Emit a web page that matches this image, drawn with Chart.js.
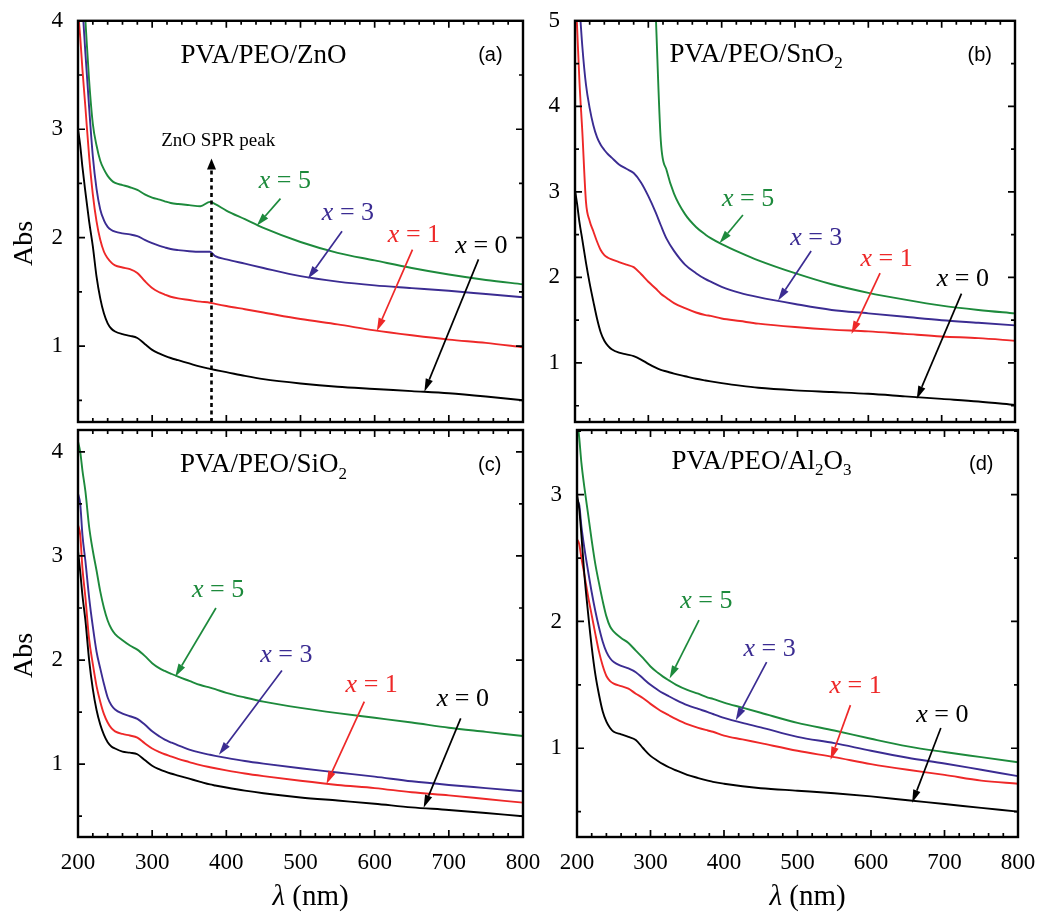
<!DOCTYPE html>
<html>
<head>
<meta charset="utf-8">
<title>Abs spectra PVA/PEO nanocomposites</title>
<script src="https://cdn.jsdelivr.net/npm/chart.js@4.4.1/dist/chart.umd.min.js"></script>
<style>
  html, body { margin: 0; padding: 0; background: #fff; }
  #wrap { position: relative; width: 1045px; height: 913px; }
  #wrap canvas { position: absolute; left: 0; top: 0; }
</style>
</head>
<body>
<div id="wrap">
  <canvas id="pa" width="1045" height="913"></canvas>
  <canvas id="pb" width="1045" height="913"></canvas>
  <canvas id="pc" width="1045" height="913"></canvas>
  <canvas id="pd" width="1045" height="913"></canvas>
</div>
<script>
// wavelength grid, nm
var wl = [200, 203, 206, 210, 215, 220, 225, 230, 235, 240, 245, 250, 260, 270, 280, 290, 300, 310, 317, 325,
          335, 350, 365, 378, 385, 400, 425, 450, 500, 550, 600, 650, 700, 750, 800];
var xTicks = [200, 300, 400, 500, 600, 700, 800];
var seriesNames = ['0', '1', '3', '5'];

// (a) PVA/PEO/ZnO
var zno0 = [3.00, 2.85, 2.65, 2.42, 2.15, 1.92, 1.64, 1.44, 1.30, 1.21, 1.16, 1.135, 1.11, 1.095, 1.075, 1.02, 0.965, 0.93, 0.91, 0.89,
            0.87, 0.84, 0.81, 0.79, 0.78, 0.76, 0.725, 0.695, 0.655, 0.625, 0.605, 0.585, 0.565, 0.535, 0.50];
var zno1 = [4.10, 3.85, 3.55, 3.20, 2.75, 2.40, 2.15, 1.98, 1.87, 1.81, 1.77, 1.745, 1.725, 1.71, 1.675, 1.60, 1.535, 1.495, 1.475, 1.455,
            1.44, 1.425, 1.41, 1.40, 1.39, 1.37, 1.34, 1.31, 1.25, 1.20, 1.145, 1.10, 1.06, 1.03, 0.99];
var zno3 = [5.00, 4.60, 4.15, 3.70, 3.20, 2.75, 2.45, 2.26, 2.16, 2.10, 2.07, 2.055, 2.04, 2.03, 2.015, 1.98, 1.95, 1.925, 1.91, 1.895,
            1.885, 1.875, 1.87, 1.87, 1.83, 1.80, 1.76, 1.72, 1.645, 1.595, 1.56, 1.535, 1.51, 1.48, 1.45];
var zno5 = [5.20, 4.80, 4.40, 4.00, 3.45, 3.05, 2.85, 2.71, 2.63, 2.57, 2.53, 2.505, 2.485, 2.465, 2.44, 2.40, 2.37, 2.35, 2.335, 2.32,
            2.31, 2.30, 2.29, 2.33, 2.31, 2.25, 2.17, 2.09, 1.96, 1.86, 1.79, 1.72, 1.66, 1.61, 1.57];

// (b) PVA/PEO/SnO2
var sno0 = [3.02, 2.85, 2.65, 2.44, 2.17, 1.93, 1.72, 1.52, 1.36, 1.26, 1.20, 1.16, 1.12, 1.10, 1.08, 1.04, 0.99, 0.945, 0.92, 0.90,
            0.875, 0.845, 0.815, 0.795, 0.785, 0.765, 0.735, 0.71, 0.68, 0.66, 0.64, 0.61, 0.58, 0.55, 0.51];
var sno1 = [5.50, 4.90, 4.30, 3.70, 2.88, 2.66, 2.54, 2.42, 2.32, 2.26, 2.23, 2.21, 2.18, 2.15, 2.12, 2.04, 1.95, 1.87, 1.81, 1.76,
            1.70, 1.64, 1.59, 1.56, 1.55, 1.52, 1.49, 1.46, 1.42, 1.39, 1.37, 1.34, 1.31, 1.29, 1.26];
var sno3 = [6.00, 5.60, 5.20, 4.70, 4.25, 3.98, 3.78, 3.64, 3.55, 3.49, 3.44, 3.40, 3.32, 3.27, 3.22, 3.11, 2.95, 2.76, 2.61, 2.45,
            2.31, 2.15, 2.05, 1.98, 1.95, 1.89, 1.82, 1.77, 1.69, 1.62, 1.58, 1.54, 1.50, 1.47, 1.44];
var sno5 = [null, null, null, null, null, null, null, null, null, null, null, null, null, null, null, null, null, 5.10, 3.60, 3.25,
            2.98, 2.74, 2.59, 2.50, 2.46, 2.39, 2.29, 2.20, 2.05, 1.92, 1.82, 1.74, 1.67, 1.62, 1.58];

// (c) PVA/PEO/SiO2
var sio0 = [3.05, 2.85, 2.62, 2.38, 2.00, 1.72, 1.52, 1.38, 1.28, 1.21, 1.17, 1.15, 1.12, 1.11, 1.095, 1.04, 0.985, 0.95, 0.93, 0.91,
            0.89, 0.86, 0.83, 0.805, 0.795, 0.775, 0.745, 0.72, 0.68, 0.65, 0.62, 0.585, 0.56, 0.53, 0.50];
var sio1 = [3.30, 3.20, 2.88, 2.60, 2.20, 1.96, 1.75, 1.60, 1.48, 1.40, 1.345, 1.315, 1.29, 1.275, 1.255, 1.20, 1.15, 1.115, 1.095, 1.075,
            1.05, 1.02, 0.99, 0.97, 0.96, 0.94, 0.91, 0.885, 0.84, 0.80, 0.77, 0.73, 0.70, 0.665, 0.63];
var sio3 = [3.60, 3.50, 3.20, 2.95, 2.60, 2.32, 2.08, 1.92, 1.77, 1.64, 1.565, 1.525, 1.485, 1.46, 1.435, 1.38, 1.315, 1.265, 1.235, 1.21,
            1.18, 1.14, 1.11, 1.09, 1.08, 1.06, 1.03, 1.005, 0.96, 0.92, 0.88, 0.835, 0.80, 0.77, 0.74];
var sio5 = [4.10, 4.00, 3.82, 3.62, 3.28, 3.05, 2.86, 2.66, 2.50, 2.38, 2.30, 2.25, 2.19, 2.14, 2.10, 2.04, 1.97, 1.92, 1.895, 1.87,
            1.84, 1.80, 1.76, 1.735, 1.72, 1.685, 1.64, 1.60, 1.54, 1.49, 1.445, 1.40, 1.35, 1.31, 1.27];

// (d) PVA/PEO/Al2O3
var alo0 = [3.00, 2.89, 2.68, 2.37, 2.07, 1.80, 1.58, 1.42, 1.29, 1.21, 1.16, 1.13, 1.11, 1.09, 1.065, 1.00, 0.94, 0.90, 0.875, 0.85,
            0.825, 0.79, 0.765, 0.745, 0.735, 0.72, 0.70, 0.685, 0.665, 0.645, 0.62, 0.59, 0.56, 0.53, 0.50];
var alo1 = [2.65, 2.61, 2.50, 2.37, 2.20, 2.05, 1.90, 1.76, 1.65, 1.57, 1.53, 1.51, 1.49, 1.47, 1.43, 1.395, 1.35, 1.31, 1.285, 1.26,
            1.23, 1.19, 1.16, 1.14, 1.13, 1.10, 1.07, 1.04, 0.98, 0.93, 0.875, 0.83, 0.79, 0.745, 0.72];
var alo3 = [2.95, 2.92, 2.75, 2.58, 2.40, 2.23, 2.08, 1.95, 1.84, 1.76, 1.71, 1.68, 1.65, 1.63, 1.60, 1.55, 1.50, 1.46, 1.435, 1.41,
            1.38, 1.34, 1.31, 1.285, 1.27, 1.24, 1.20, 1.165, 1.09, 1.04, 0.98, 0.925, 0.88, 0.83, 0.78];
var alo5 = [3.60, 3.45, 3.25, 3.06, 2.85, 2.64, 2.45, 2.30, 2.16, 2.04, 1.96, 1.92, 1.87, 1.83, 1.77, 1.71, 1.645, 1.595, 1.565, 1.535,
            1.50, 1.46, 1.43, 1.40, 1.39, 1.36, 1.32, 1.28, 1.20, 1.14, 1.075, 1.015, 0.97, 0.93, 0.89];

var W = 1045, H = 913;
var serif = '"Liberation Serif", "Times New Roman", serif';
var sans = '"Liberation Sans", Arial, sans-serif';
var lineColors = ['#000000', '#ee2828', '#3b2c92', '#1d8a3c'];

function fontOf(pt, size) {
  return (pt.i ? 'italic ' : '') + (pt.sub ? Math.round(size * 0.62) : size) + 'px ' + (pt.sans ? sans : serif);
}

// mixed-style text centred at cx, cy
function drawParts(ctx, parts, cx, cy, size, color) {
  var widths = [], total = 0;
  parts.forEach(function(pt) {
    ctx.font = fontOf(pt, size);
    var w = ctx.measureText(pt.t).width;
    widths.push(w);
    total += w;
  });
  var x = cx - total / 2;
  ctx.textAlign = 'left';
  ctx.textBaseline = 'middle';
  ctx.fillStyle = color;
  parts.forEach(function(pt, i) {
    ctx.font = fontOf(pt, size);
    ctx.fillText(pt.t, x, cy + (pt.sub ? size * 0.32 : 0));
    x += widths[i];
  });
}

function arrow(ctx, x1, y1, x2, y2, color, width, head, half, dash) {
  var ang = Math.atan2(y2 - y1, x2 - x1);
  var bx = x2 - head * Math.cos(ang), by = y2 - head * Math.sin(ang);
  ctx.strokeStyle = color;
  ctx.lineWidth = width;
  ctx.setLineDash(dash || []);
  ctx.beginPath();
  ctx.moveTo(x1, y1);
  ctx.lineTo(bx, by);
  ctx.stroke();
  ctx.setLineDash([]);
  ctx.fillStyle = color;
  ctx.beginPath();
  ctx.moveTo(x2, y2);
  ctx.lineTo(bx + half * Math.sin(ang), by - half * Math.cos(ang));
  ctx.lineTo(bx - half * Math.sin(ang), by + half * Math.cos(ang));
  ctx.closePath();
  ctx.fill();
}

function overlayPlugin(p) {
  return {
    id: 'overlay',
    afterDatasetsDraw: function(chart) {
      var ctx = chart.ctx, a = chart.chartArea;
      var xs = chart.scales.x, ys = chart.scales.y;
      var X = function(v) { return xs.getPixelForValue(v); };
      var Y = function(v) { return ys.getPixelForValue(v); };
      ctx.save();

      // inward ticks on all four sides
      ctx.strokeStyle = '#000';
      ctx.lineWidth = 1.7;
      ctx.beginPath();
      for (var v = 200; v <= 800; v += 20) {
        var len = v % 100 === 0 ? 7 : 4;
        var px = X(v);
        ctx.moveTo(px, a.bottom); ctx.lineTo(px, a.bottom - len);
        ctx.moveTo(px, a.top); ctx.lineTo(px, a.top + len);
      }
      for (var k = 1; k * 0.5 <= p.yMax + 1e-9; k++) {
        var yv = k * 0.5;
        if (yv < p.yMin) continue;
        var len2 = k % 2 === 0 ? 7 : 4;
        var py = Y(yv);
        ctx.moveTo(a.left, py); ctx.lineTo(a.left + len2, py);
        ctx.moveTo(a.right, py); ctx.lineTo(a.right - len2, py);
      }
      ctx.stroke();

      // frame
      ctx.lineWidth = 2.4;
      ctx.strokeRect(a.left, a.top, a.right - a.left, a.bottom - a.top);

      // optional dashed SPR marker
      if (p.spr) {
        var s = p.spr;
        arrow(ctx, X(s.x), a.bottom, X(s.x), Y(s.top), '#000', 2.6, 11, 4.5, [4, 3.5]);
        drawParts(ctx, [{t: s.text}], X(s.tx), Y(s.ty), 19, '#000');
      }

      // curve labels with arrows
      p.notes.forEach(function(n, i) {
        var c = lineColors[i];
        drawParts(ctx, [{t: 'x', i: true}, {t: ' = ' + seriesNames[i]}], X(n.tx), Y(n.ty), 26, c);
        arrow(ctx, X(n.ax), Y(n.ay), X(n.bx), Y(n.by), c, 1.7, 13, 3.8);
      });

      // panel title and letter
      drawParts(ctx, p.title, X(p.titlePos[0]), Y(p.titlePos[1]), 27, '#000');
      drawParts(ctx, [{t: p.letter, sans: true}], X(p.letterPos[0]), Y(p.letterPos[1]), 20, '#000');

      // axis titles
      if (p.yTitle) {
        ctx.save();
        ctx.translate(25, (a.top + a.bottom) / 2 + 22);
        ctx.rotate(-Math.PI / 2);
        drawParts(ctx, [{t: 'Abs'}], 0, 0, 28, '#000');
        ctx.restore();
      }
      if (p.xTitle) {
        drawParts(ctx, [{t: 'λ', i: true}, {t: ' (nm)'}], (a.left + a.right) / 2 + 10, 897, 29, '#000');
      }
      ctx.restore();
    }
  };
}

function panel(id, p) {
  var area = p.area;
  var datasets = p.series.map(function(vals, i) {
    return {
      label: 'x = ' + seriesNames[i],
      data: wl.map(function(x, j) { return {x: x, y: vals[j]}; }),
      borderColor: lineColors[i],
      borderWidth: 1.9,
      pointRadius: 0,
      fill: false,
      cubicInterpolationMode: 'monotone',
      spanGaps: false
    };
  });
  new Chart(document.getElementById(id), {
    type: 'line',
    data: { datasets: datasets },
    options: {
      responsive: false,
      animation: false,
      events: [],
      layout: { padding: { left: 0, top: area.t, right: W - area.r, bottom: 0 } },
      plugins: { legend: { display: false }, tooltip: { enabled: false } },
      scales: {
        x: {
          type: 'linear', min: 200, max: 800,
          afterBuildTicks: function(s) { s.ticks = xTicks.map(function(v) { return {value: v}; }); },
          afterFit: function(s) { s.height = H - area.b; },
          grid: { display: false }, border: { display: false },
          ticks: { display: p.xTitle, autoSkip: false, maxRotation: 0, padding: 4,
                   color: '#000', font: { family: serif, size: 23 } }
        },
        y: {
          type: 'linear', min: p.yMin, max: p.yMax,
          afterBuildTicks: function(s) { s.ticks = p.yTicks.map(function(v) { return {value: v}; }); },
          afterFit: function(s) { s.width = area.l; },
          grid: { display: false }, border: { display: false },
          ticks: { padding: 7, color: '#000', font: { family: serif, size: 23 } }
        }
      }
    },
    plugins: [overlayPlugin(p)]
  });
}

panel('pa', {
  area: { l: 78, t: 15, r: 523, b: 422 },
  yMin: 0.3, yMax: 4, yTicks: [1, 2, 3, 4],
  series: [zno0, zno1, zno3, zno5],
  title: [{t: 'PVA/PEO/ZnO'}], titlePos: [450, 3.68],
  letter: '(a)', letterPos: [756, 3.68],
  yTitle: true, xTitle: false,
  spr: { x: 380, top: 2.73, text: 'ZnO SPR peak', tx: 389, ty: 2.89 },
  notes: [
    { tx: 744, ty: 1.92, ax: 740, ay: 1.80, bx: 667, by: 0.58 },
    { tx: 653, ty: 2.02, ax: 651, ay: 1.89, bx: 603, by: 1.14 },
    { tx: 564, ty: 2.23, ax: 556, ay: 2.06, bx: 510, by: 1.62 },
    { tx: 479, ty: 2.52, ax: 473, ay: 2.36, bx: 441, by: 2.11 }
  ]
});

panel('pb', {
  area: { l: 575, t: 15, r: 1015, b: 422 },
  yMin: 0.31, yMax: 5, yTicks: [1, 2, 3, 4, 5],
  series: [sno0, sno1, sno3, sno5],
  title: [{t: 'PVA/PEO/SnO'}, {t: '2', sub: true}], titlePos: [447, 4.60],
  letter: '(b)', letterPos: [752, 4.60],
  yTitle: false, xTitle: false,
  notes: [
    { tx: 729, ty: 1.98, ax: 727, ay: 1.81, bx: 666, by: 0.58 },
    { tx: 625, ty: 2.21, ax: 616, ay: 2.05, bx: 577, by: 1.34 },
    { tx: 529, ty: 2.46, ax: 522, ay: 2.31, bx: 477, by: 1.73 },
    { tx: 436, ty: 2.92, ax: 429, ay: 2.73, bx: 397, by: 2.40 }
  ]
});

panel('pc', {
  area: { l: 78, t: 430, r: 523, b: 837 },
  yMin: 0.3, yMax: 4.21, yTicks: [1, 2, 3, 4],
  series: [sio0, sio1, sio3, sio5],
  title: [{t: 'PVA/PEO/SiO'}, {t: '2', sub: true}], titlePos: [450, 3.87],
  letter: '(c)', letterPos: [755, 3.87],
  yTitle: true, xTitle: true,
  notes: [
    { tx: 719, ty: 1.62, ax: 716, ay: 1.44, bx: 666, by: 0.58 },
    { tx: 596, ty: 1.76, ax: 586, ay: 1.60, bx: 535, by: 0.81 },
    { tx: 481, ty: 2.05, ax: 475, ay: 1.90, bx: 390, by: 1.09 },
    { tx: 389, ty: 2.67, ax: 386, ay: 2.50, bx: 331, by: 1.84 }
  ]
});

panel('pd', {
  area: { l: 577, t: 430, r: 1018, b: 837 },
  yMin: 0.3, yMax: 3.51, yTicks: [1, 2, 3],
  series: [alo0, alo1, alo3, alo5],
  title: [{t: 'PVA/PEO/Al'}, {t: '2', sub: true}, {t: 'O'}, {t: '3', sub: true}], titlePos: [451, 3.26],
  letter: '(d)', letterPos: [750, 3.24],
  yTitle: false, xTitle: true,
  notes: [
    { tx: 697, ty: 1.26, ax: 695, ay: 1.16, bx: 656, by: 0.57 },
    { tx: 579, ty: 1.49, ax: 572, ay: 1.34, bx: 545, by: 0.91 },
    { tx: 462, ty: 1.78, ax: 458, ay: 1.68, bx: 416, by: 1.22 },
    { tx: 376, ty: 2.16, ax: 366, ay: 2.01, bx: 326, by: 1.55 }
  ]
});
</script>
</body>
</html>
